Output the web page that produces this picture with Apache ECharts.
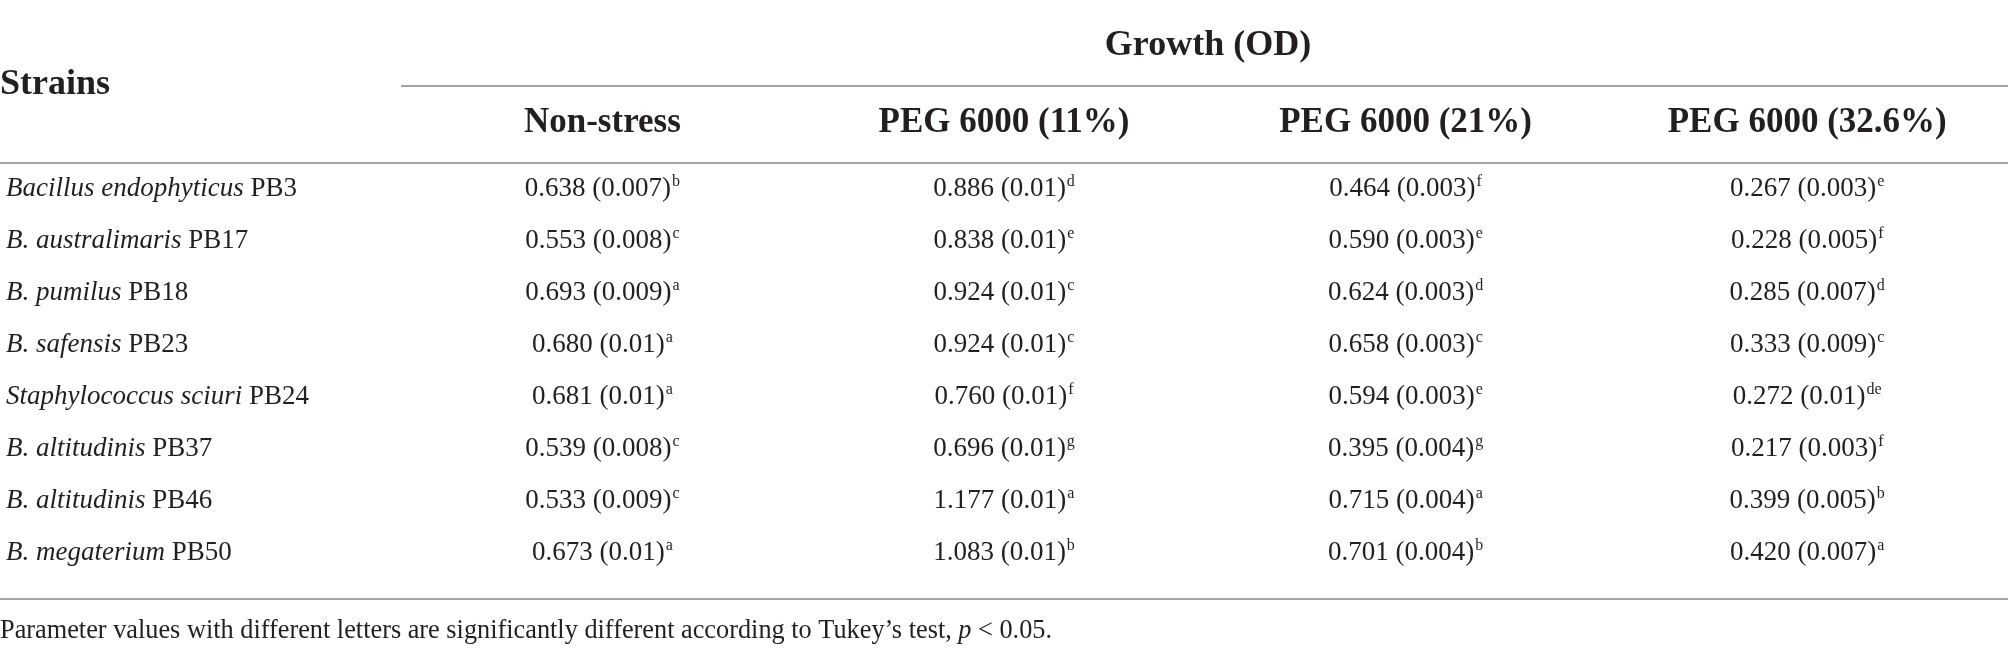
<!DOCTYPE html>
<html>
<head>
<meta charset="utf-8">
<script src="https://cdn.jsdelivr.net/npm/echarts@6/dist/echarts.min.js"></script>
<style>
html,body{margin:0;padding:0;background:#fff;}
#c{width:2008px;height:656px;}
</style>
</head>
<body>
<div id="c"></div>
<script>
// ---- data ----
const strainSpecies = ['Bacillus endophyticus', 'B. australimaris', 'B. pumilus', 'B. safensis',
  'Staphylococcus sciuri', 'B. altitudinis', 'B. altitudinis', 'B. megaterium'];
const strainCodes = ['PB3', 'PB17', 'PB18', 'PB23', 'PB24', 'PB37', 'PB46', 'PB50'];
const columnHeaders = ['Non-stress', 'PEG 6000 (11%)', 'PEG 6000 (21%)', 'PEG 6000 (32.6%)'];

const nonStressMean = [0.638, 0.553, 0.693, 0.680, 0.681, 0.539, 0.533, 0.673];
const nonStressSD = [0.007, 0.008, 0.009, 0.01, 0.01, 0.008, 0.009, 0.01];
const nonStressLetter = ['b', 'c', 'a', 'a', 'a', 'c', 'c', 'a'];

const peg11Mean = [0.886, 0.838, 0.924, 0.924, 0.760, 0.696, 1.177, 1.083];
const peg11SD = [0.01, 0.01, 0.01, 0.01, 0.01, 0.01, 0.01, 0.01];
const peg11Letter = ['d', 'e', 'c', 'c', 'f', 'g', 'a', 'b'];

const peg21Mean = [0.464, 0.590, 0.624, 0.658, 0.594, 0.395, 0.715, 0.701];
const peg21SD = [0.003, 0.003, 0.003, 0.003, 0.003, 0.004, 0.004, 0.004];
const peg21Letter = ['f', 'e', 'd', 'c', 'e', 'g', 'a', 'b'];

const peg326Mean = [0.267, 0.228, 0.285, 0.333, 0.272, 0.217, 0.399, 0.420];
const peg326SD = [0.003, 0.005, 0.007, 0.009, 0.01, 0.003, 0.005, 0.007];
const peg326Letter = ['e', 'f', 'd', 'c', 'de', 'f', 'b', 'a'];

const groupTitle = 'Growth (OD)';
const rowHeaderTitle = 'Strains';
const footnoteParts = ['Parameter values with different letters are significantly different according to Tukey\u2019s test, ', 'p', ' < 0.05.'];

// ---- build ----
const FONT = '"Liberation Serif", "DejaVu Serif", serif';
const TXT = '#231f20';
const RULE = '#a3a3a3';
const strainNames = strainSpecies.map((s, i) => s + ' ' + strainCodes[i]);
const xCats = [''].concat(columnHeaders);

const columns = [
  [nonStressMean, nonStressSD, nonStressLetter],
  [peg11Mean, peg11SD, peg11Letter],
  [peg21Mean, peg21SD, peg21Letter],
  [peg326Mean, peg326SD, peg326Letter]
];

const cellRich = {
  v: { fontFamily: FONT, fontSize: 27, color: TXT, lineHeight: 30 },
  s: { fontFamily: FONT, fontSize: 16, color: TXT, lineHeight: 30, verticalAlign: 'top', padding: [0, 0, 0, 1] }
};

function renderCell(params, api) {
  const p = api.coord([api.value(0), api.value(1)]);
  const idx = params.dataIndex;
  const col = columns[params.seriesIndex];
  const txt = '{v|' + col[0][idx].toFixed(3) + ' (' + String(col[1][idx]) + ')}{s|' + col[2][idx] + '}';
  return {
    type: 'text',
    x: p[0], y: p[1],
    style: { text: txt, rich: cellRich, align: 'center', verticalAlign: 'middle', fill: TXT }
  };
}

const series = columns.map((col, ci) => ({
  type: 'custom',
  name: columnHeaders[ci],
  coordinateSystem: 'cartesian2d',
  renderItem: renderCell,
  encode: { x: 0, y: 1 },
  data: col[0].map((m, ri) => [columnHeaders[ci], strainNames[ri], m]),
  silent: true
}));

const chart = echarts.init(document.getElementById('c'), null, { renderer: 'canvas' });
chart.setOption({
  backgroundColor: '#fff',
  animation: false,
  grid: { left: -4, right: -4, top: 163, bottom: 77, containLabel: false },
  xAxis: {
    type: 'category', position: 'top', data: xCats, boundaryGap: true,
    axisLine: { show: true, lineStyle: { color: RULE, width: 2 } },
    axisTick: { show: false },
    splitLine: { show: false },
    axisLabel: {
      interval: 0, margin: 20, fontFamily: FONT, fontWeight: 'bold', fontSize: 35,
      lineHeight: 40, color: TXT
    }
  },
  yAxis: {
    type: 'category', data: strainNames, inverse: true, boundaryGap: true,
    axisLine: { show: false }, axisTick: { show: false }, splitLine: { show: false },
    axisLabel: {
      inside: true, interval: 0, margin: 6, align: 'left',
      formatter: (v, i) => '{i|' + strainSpecies[i] + '}{r| ' + strainCodes[i] + '}',
      rich: {
        i: { fontFamily: FONT, fontStyle: 'italic', fontSize: 27, color: TXT },
        r: { fontFamily: FONT, fontSize: 27, color: TXT }
      }
    }
  },
  graphic: [
    { type: 'text', x: 0, y: 85, silent: true,
      style: { text: rowHeaderTitle, font: 'bold 36px ' + FONT, fill: TXT, align: 'left', verticalAlign: 'middle' } },
    { type: 'text', x: 1208, y: 46, silent: true,
      style: { text: groupTitle, font: 'bold 36px ' + FONT, fill: TXT, align: 'center', verticalAlign: 'middle' } },
    { type: 'line', silent: true, shape: { x1: 401, y1: 86, x2: 2008, y2: 86 }, style: { stroke: RULE, lineWidth: 2 } },
    { type: 'line', silent: true, shape: { x1: 0, y1: 599, x2: 2008, y2: 599 }, style: { stroke: RULE, lineWidth: 2 } },
    { type: 'text', x: 0, y: 631, silent: true,
      style: {
        text: '{r|' + footnoteParts[0] + '}{i|' + footnoteParts[1] + '}{r|' + footnoteParts[2] + '}',
        align: 'left', verticalAlign: 'middle',
        rich: {
          r: { fontFamily: FONT, fontSize: 26.3, fill: TXT, color: TXT },
          i: { fontFamily: FONT, fontSize: 26.3, fontStyle: 'italic', fill: TXT, color: TXT }
        }
      } }
  ],
  series: series
});
</script>
</body>
</html>
